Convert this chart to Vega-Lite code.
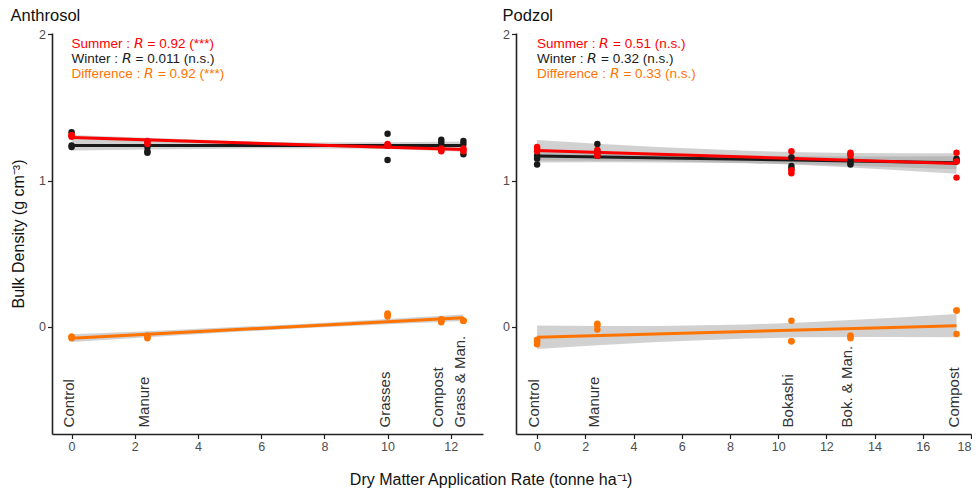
{
  "$schema": "https://vega.github.io/schema/vega-lite/v6.json",
  "padding": {"left": 10, "top": 7, "right": 0, "bottom": 3},
  "title": {
    "text": "Dry Matter Application Rate (tonne ha⁻¹)",
    "orient": "bottom",
    "anchor": "middle",
    "fontSize": 16,
    "offset": 19,
    "color": "#111111"
  },
  "spacing": 19,
  "datasets": {
    "points": [
      {"soil": "Anthrosol", "series": "Winter", "rate": 0, "bd": 1.33},
      {"soil": "Anthrosol", "series": "Winter", "rate": 0, "bd": 1.24},
      {"soil": "Anthrosol", "series": "Winter", "rate": 0, "bd": 1.23},
      {"soil": "Anthrosol", "series": "Winter", "rate": 2.4, "bd": 1.23},
      {"soil": "Anthrosol", "series": "Winter", "rate": 2.4, "bd": 1.2},
      {"soil": "Anthrosol", "series": "Winter", "rate": 2.4, "bd": 1.19},
      {"soil": "Anthrosol", "series": "Winter", "rate": 10, "bd": 1.32},
      {"soil": "Anthrosol", "series": "Winter", "rate": 10, "bd": 1.14},
      {"soil": "Anthrosol", "series": "Winter", "rate": 10, "bd": 1.24},
      {"soil": "Anthrosol", "series": "Winter", "rate": 11.7, "bd": 1.28},
      {"soil": "Anthrosol", "series": "Winter", "rate": 11.7, "bd": 1.26},
      {"soil": "Anthrosol", "series": "Winter", "rate": 11.7, "bd": 1.24},
      {"soil": "Anthrosol", "series": "Winter", "rate": 12.4, "bd": 1.27},
      {"soil": "Anthrosol", "series": "Winter", "rate": 12.4, "bd": 1.25},
      {"soil": "Anthrosol", "series": "Winter", "rate": 12.4, "bd": 1.18},
      {"soil": "Anthrosol", "series": "Summer", "rate": 0, "bd": 1.31},
      {"soil": "Anthrosol", "series": "Summer", "rate": 0, "bd": 1.31},
      {"soil": "Anthrosol", "series": "Summer", "rate": 0, "bd": 1.3},
      {"soil": "Anthrosol", "series": "Summer", "rate": 2.4, "bd": 1.26},
      {"soil": "Anthrosol", "series": "Summer", "rate": 2.4, "bd": 1.27},
      {"soil": "Anthrosol", "series": "Summer", "rate": 2.4, "bd": 1.25},
      {"soil": "Anthrosol", "series": "Summer", "rate": 10, "bd": 1.25},
      {"soil": "Anthrosol", "series": "Summer", "rate": 10, "bd": 1.24},
      {"soil": "Anthrosol", "series": "Summer", "rate": 10, "bd": 1.24},
      {"soil": "Anthrosol", "series": "Summer", "rate": 11.7, "bd": 1.22},
      {"soil": "Anthrosol", "series": "Summer", "rate": 11.7, "bd": 1.21},
      {"soil": "Anthrosol", "series": "Summer", "rate": 11.7, "bd": 1.2},
      {"soil": "Anthrosol", "series": "Summer", "rate": 12.4, "bd": 1.21},
      {"soil": "Anthrosol", "series": "Summer", "rate": 12.4, "bd": 1.2},
      {"soil": "Anthrosol", "series": "Summer", "rate": 12.4, "bd": 1.22},
      {"soil": "Anthrosol", "series": "Difference", "rate": 0, "bd": -0.07},
      {"soil": "Anthrosol", "series": "Difference", "rate": 0, "bd": -0.07},
      {"soil": "Anthrosol", "series": "Difference", "rate": 0, "bd": -0.08},
      {"soil": "Anthrosol", "series": "Difference", "rate": 2.4, "bd": -0.06},
      {"soil": "Anthrosol", "series": "Difference", "rate": 2.4, "bd": -0.07},
      {"soil": "Anthrosol", "series": "Difference", "rate": 2.4, "bd": -0.08},
      {"soil": "Anthrosol", "series": "Difference", "rate": 10, "bd": 0.09},
      {"soil": "Anthrosol", "series": "Difference", "rate": 10, "bd": 0.08},
      {"soil": "Anthrosol", "series": "Difference", "rate": 10, "bd": 0.07},
      {"soil": "Anthrosol", "series": "Difference", "rate": 11.7, "bd": 0.05},
      {"soil": "Anthrosol", "series": "Difference", "rate": 11.7, "bd": 0.04},
      {"soil": "Anthrosol", "series": "Difference", "rate": 11.7, "bd": 0.03},
      {"soil": "Anthrosol", "series": "Difference", "rate": 12.4, "bd": 0.04},
      {"soil": "Anthrosol", "series": "Difference", "rate": 12.4, "bd": 0.04},
      {"soil": "Anthrosol", "series": "Difference", "rate": 12.4, "bd": 0.04},
      {"soil": "Podzol", "series": "Winter", "rate": 0, "bd": 1.17},
      {"soil": "Podzol", "series": "Winter", "rate": 0, "bd": 1.15},
      {"soil": "Podzol", "series": "Winter", "rate": 0, "bd": 1.11},
      {"soil": "Podzol", "series": "Winter", "rate": 2.5, "bd": 1.25},
      {"soil": "Podzol", "series": "Winter", "rate": 2.5, "bd": 1.2},
      {"soil": "Podzol", "series": "Winter", "rate": 2.5, "bd": 1.17},
      {"soil": "Podzol", "series": "Winter", "rate": 10.55, "bd": 1.16},
      {"soil": "Podzol", "series": "Winter", "rate": 10.55, "bd": 1.1},
      {"soil": "Podzol", "series": "Winter", "rate": 10.55, "bd": 1.08},
      {"soil": "Podzol", "series": "Winter", "rate": 13, "bd": 1.14},
      {"soil": "Podzol", "series": "Winter", "rate": 13, "bd": 1.12},
      {"soil": "Podzol", "series": "Winter", "rate": 13, "bd": 1.11},
      {"soil": "Podzol", "series": "Winter", "rate": 17.4, "bd": 1.15},
      {"soil": "Podzol", "series": "Winter", "rate": 17.4, "bd": 1.14},
      {"soil": "Podzol", "series": "Winter", "rate": 17.4, "bd": 1.13},
      {"soil": "Podzol", "series": "Summer", "rate": 0, "bd": 1.23},
      {"soil": "Podzol", "series": "Summer", "rate": 0, "bd": 1.22},
      {"soil": "Podzol", "series": "Summer", "rate": 0, "bd": 1.2},
      {"soil": "Podzol", "series": "Summer", "rate": 2.5, "bd": 1.21},
      {"soil": "Podzol", "series": "Summer", "rate": 2.5, "bd": 1.19},
      {"soil": "Podzol", "series": "Summer", "rate": 2.5, "bd": 1.17},
      {"soil": "Podzol", "series": "Summer", "rate": 10.55, "bd": 1.2},
      {"soil": "Podzol", "series": "Summer", "rate": 10.55, "bd": 1.07},
      {"soil": "Podzol", "series": "Summer", "rate": 10.55, "bd": 1.05},
      {"soil": "Podzol", "series": "Summer", "rate": 13, "bd": 1.19},
      {"soil": "Podzol", "series": "Summer", "rate": 13, "bd": 1.18},
      {"soil": "Podzol", "series": "Summer", "rate": 13, "bd": 1.17},
      {"soil": "Podzol", "series": "Summer", "rate": 17.4, "bd": 1.19},
      {"soil": "Podzol", "series": "Summer", "rate": 17.4, "bd": 1.13},
      {"soil": "Podzol", "series": "Summer", "rate": 17.4, "bd": 1.02},
      {"soil": "Podzol", "series": "Difference", "rate": 0, "bd": -0.09},
      {"soil": "Podzol", "series": "Difference", "rate": 0, "bd": -0.1},
      {"soil": "Podzol", "series": "Difference", "rate": 0, "bd": -0.12},
      {"soil": "Podzol", "series": "Difference", "rate": 2.5, "bd": 0.02},
      {"soil": "Podzol", "series": "Difference", "rate": 2.5, "bd": 0.01},
      {"soil": "Podzol", "series": "Difference", "rate": 2.5, "bd": -0.02},
      {"soil": "Podzol", "series": "Difference", "rate": 10.55, "bd": 0.04},
      {"soil": "Podzol", "series": "Difference", "rate": 10.55, "bd": -0.1},
      {"soil": "Podzol", "series": "Difference", "rate": 10.55, "bd": -0.1},
      {"soil": "Podzol", "series": "Difference", "rate": 13, "bd": -0.06},
      {"soil": "Podzol", "series": "Difference", "rate": 13, "bd": -0.07},
      {"soil": "Podzol", "series": "Difference", "rate": 13, "bd": -0.08},
      {"soil": "Podzol", "series": "Difference", "rate": 17.4, "bd": 0.11},
      {"soil": "Podzol", "series": "Difference", "rate": 17.4, "bd": 0.11},
      {"soil": "Podzol", "series": "Difference", "rate": 17.4, "bd": -0.05}
    ],
    "bands": [
      {"soil": "Anthrosol", "series": "Summer", "rate": 0, "lo": 1.2765, "hi": 1.3125},
      {"soil": "Anthrosol", "series": "Summer", "rate": 2.4, "lo": 1.2645, "hi": 1.2925},
      {"soil": "Anthrosol", "series": "Summer", "rate": 5, "lo": 1.2503, "hi": 1.2723},
      {"soil": "Anthrosol", "series": "Summer", "rate": 7.3, "lo": 1.236, "hi": 1.256},
      {"soil": "Anthrosol", "series": "Summer", "rate": 10, "lo": 1.216, "hi": 1.24},
      {"soil": "Anthrosol", "series": "Summer", "rate": 12.4, "lo": 1.197, "hi": 1.227},
      {"soil": "Anthrosol", "series": "Winter", "rate": 0, "lo": 1.205, "hi": 1.275},
      {"soil": "Anthrosol", "series": "Winter", "rate": 2.4, "lo": 1.212, "hi": 1.268},
      {"soil": "Anthrosol", "series": "Winter", "rate": 5, "lo": 1.218, "hi": 1.262},
      {"soil": "Anthrosol", "series": "Winter", "rate": 7.3, "lo": 1.22, "hi": 1.26},
      {"soil": "Anthrosol", "series": "Winter", "rate": 10, "lo": 1.217, "hi": 1.263},
      {"soil": "Anthrosol", "series": "Winter", "rate": 12.4, "lo": 1.212, "hi": 1.268},
      {"soil": "Anthrosol", "series": "Difference", "rate": 0, "lo": -0.106, "hi": -0.052},
      {"soil": "Anthrosol", "series": "Difference", "rate": 2.4, "lo": -0.073, "hi": -0.031},
      {"soil": "Anthrosol", "series": "Difference", "rate": 5, "lo": -0.039, "hi": -0.005},
      {"soil": "Anthrosol", "series": "Difference", "rate": 7.3, "lo": -0.0113, "hi": 0.0187},
      {"soil": "Anthrosol", "series": "Difference", "rate": 10, "lo": 0.016, "hi": 0.052},
      {"soil": "Anthrosol", "series": "Difference", "rate": 12.4, "lo": 0.039, "hi": 0.083},
      {"soil": "Podzol", "series": "Summer", "rate": 0, "lo": 1.137, "hi": 1.277},
      {"soil": "Podzol", "series": "Summer", "rate": 2.5, "lo": 1.136, "hi": 1.252},
      {"soil": "Podzol", "series": "Summer", "rate": 5, "lo": 1.133, "hi": 1.229},
      {"soil": "Podzol", "series": "Summer", "rate": 8.688, "lo": 1.1198, "hi": 1.2038},
      {"soil": "Podzol", "series": "Summer", "rate": 11, "lo": 1.1058, "hi": 1.1938},
      {"soil": "Podzol", "series": "Summer", "rate": 13, "lo": 1.0894, "hi": 1.1894},
      {"soil": "Podzol", "series": "Summer", "rate": 15, "lo": 1.071, "hi": 1.187},
      {"soil": "Podzol", "series": "Summer", "rate": 17.4, "lo": 1.0465, "hi": 1.1865},
      {"soil": "Podzol", "series": "Winter", "rate": 0, "lo": 1.123, "hi": 1.213},
      {"soil": "Podzol", "series": "Winter", "rate": 2.5, "lo": 1.1244, "hi": 1.1984},
      {"soil": "Podzol", "series": "Winter", "rate": 5, "lo": 1.1237, "hi": 1.1857},
      {"soil": "Podzol", "series": "Winter", "rate": 8.688, "lo": 1.1179, "hi": 1.1719},
      {"soil": "Podzol", "series": "Winter", "rate": 11, "lo": 1.1107, "hi": 1.1667},
      {"soil": "Podzol", "series": "Winter", "rate": 13, "lo": 1.1014, "hi": 1.1654},
      {"soil": "Podzol", "series": "Winter", "rate": 15, "lo": 1.0911, "hi": 1.1651},
      {"soil": "Podzol", "series": "Winter", "rate": 17.4, "lo": 1.0767, "hi": 1.1667},
      {"soil": "Podzol", "series": "Difference", "rate": 0, "lo": -0.153, "hi": 0.007},
      {"soil": "Podzol", "series": "Difference", "rate": 2.5, "lo": -0.1275, "hi": 0.0045},
      {"soil": "Podzol", "series": "Difference", "rate": 5, "lo": -0.105, "hi": 0.005},
      {"soil": "Podzol", "series": "Difference", "rate": 8.688, "lo": -0.0811, "hi": 0.0149},
      {"soil": "Podzol", "series": "Difference", "rate": 11, "lo": -0.0735, "hi": 0.0285},
      {"soil": "Podzol", "series": "Difference", "rate": 13, "lo": -0.0713, "hi": 0.0447},
      {"soil": "Podzol", "series": "Difference", "rate": 15, "lo": -0.0711, "hi": 0.0629},
      {"soil": "Podzol", "series": "Difference", "rate": 17.4, "lo": -0.0731, "hi": 0.0869}
    ],
    "treatments": [
      {"soil": "Anthrosol", "rate": 0, "treatment": "Control"},
      {"soil": "Anthrosol", "rate": 2.4, "treatment": "Manure"},
      {"soil": "Anthrosol", "rate": 10, "treatment": "Grasses"},
      {"soil": "Anthrosol", "rate": 11.7, "treatment": "Compost"},
      {"soil": "Anthrosol", "rate": 12.4, "treatment": "Grass & Man."},
      {"soil": "Podzol", "rate": 0, "treatment": "Control"},
      {"soil": "Podzol", "rate": 2.5, "treatment": "Manure"},
      {"soil": "Podzol", "rate": 10.55, "treatment": "Bokashi"},
      {"soil": "Podzol", "rate": 13, "treatment": "Bok. & Man."},
      {"soil": "Podzol", "rate": 17.4, "treatment": "Compost"}
    ],
    "notes": [
      {"soil": "Anthrosol", "series": "Summer", "note": "Summer : 𝘙 = 0.92 (***)"},
      {"soil": "Anthrosol", "series": "Winter", "note": "Winter : 𝘙 = 0.011 (n.s.)"},
      {"soil": "Anthrosol", "series": "Difference", "note": "Difference : 𝘙 = 0.92 (***)"},
      {"soil": "Podzol", "series": "Summer", "note": "Summer : 𝘙 = 0.51 (n.s.)"},
      {"soil": "Podzol", "series": "Winter", "note": "Winter : 𝘙 = 0.32 (n.s.)"},
      {"soil": "Podzol", "series": "Difference", "note": "Difference : 𝘙 = 0.33 (n.s.)"}
    ]
  },
  "hconcat": [
    {
      "width": 431,
      "height": 401,
      "title": "Anthrosol",
      "layer": [
        {
          "data": {"name": "bands"},
          "transform": [{"filter": "datum.soil === 'Anthrosol'"}],
          "mark": {"type": "area", "color": "#999999", "opacity": 0.45},
          "encoding": {
            "x": {"field": "rate", "type": "quantitative", "scale": {"domain": [-0.62, 13.02], "nice": false, "zero": false}, "axis": {"values": [0, 2, 4, 6, 8, 10, 12], "title": null}},
            "y": {"field": "lo", "type": "quantitative", "scale": {"domain": [-0.735, 2.01], "nice": false, "zero": false}, "axis": {"values": [0, 1, 2], "format": "d", "title": "Bulk Density (g cm⁻³)"}},
            "y2": {"field": "hi"},
            "detail": {"field": "series"}
          }
        },
        {
          "data": {"name": "points"},
          "transform": [
            {"filter": "datum.soil === 'Anthrosol'"},
            {"regression": "bd", "on": "rate", "groupby": ["series"]}
          ],
          "mark": {"type": "line", "strokeWidth": 3},
          "encoding": {
            "x": {"field": "rate", "type": "quantitative"},
            "y": {"field": "bd", "type": "quantitative"},
            "color": {"field": "series", "type": "nominal", "scale": {"domain": ["Summer", "Winter", "Difference"], "range": ["#ff0000", "#1a1a1a", "#ff7300"]}, "legend": null}
          }
        },
        {
          "data": {"name": "points"},
          "transform": [{"filter": "datum.soil === 'Anthrosol'"}],
          "mark": {"type": "circle", "size": 42, "opacity": 1},
          "encoding": {
            "x": {"field": "rate", "type": "quantitative"},
            "y": {"field": "bd", "type": "quantitative"},
            "color": {"field": "series", "type": "nominal", "legend": null}
          }
        },
        {
          "data": {"name": "treatments"},
          "transform": [{"filter": "datum.soil === 'Anthrosol'"}],
          "mark": {"type": "text", "angle": 270, "align": "left", "baseline": "alphabetic", "fontSize": 15, "color": "#333333", "dy": 2},
          "encoding": {
            "x": {"field": "rate", "type": "quantitative"},
            "y": {"datum": -0.69},
            "text": {"field": "treatment"}
          }
        },
        {
          "data": {"name": "notes"},
          "transform": [{"filter": "datum.soil === 'Anthrosol' && datum.series === 'Summer'"}],
          "mark": {"type": "text", "align": "left", "baseline": "alphabetic", "fontSize": 13.5},
          "encoding": {"x": {"datum": 0}, "y": {"datum": 1.91}, "text": {"field": "note"}, "color": {"field": "series", "type": "nominal", "legend": null}}
        },
        {
          "data": {"name": "notes"},
          "transform": [{"filter": "datum.soil === 'Anthrosol' && datum.series === 'Winter'"}],
          "mark": {"type": "text", "align": "left", "baseline": "alphabetic", "fontSize": 13.5},
          "encoding": {"x": {"datum": 0}, "y": {"datum": 1.805}, "text": {"field": "note"}, "color": {"field": "series", "type": "nominal", "legend": null}}
        },
        {
          "data": {"name": "notes"},
          "transform": [{"filter": "datum.soil === 'Anthrosol' && datum.series === 'Difference'"}],
          "mark": {"type": "text", "align": "left", "baseline": "alphabetic", "fontSize": 13.5},
          "encoding": {"x": {"datum": 0}, "y": {"datum": 1.70}, "text": {"field": "note"}, "color": {"field": "series", "type": "nominal", "legend": null}}
        }
      ]
    },
    {
      "width": 455,
      "height": 401,
      "title": "Podzol",
      "layer": [
        {
          "data": {"name": "bands"},
          "transform": [{"filter": "datum.soil === 'Podzol'"}],
          "mark": {"type": "area", "color": "#999999", "opacity": 0.45},
          "encoding": {
            "x": {"field": "rate", "type": "quantitative", "scale": {"domain": [-0.875, 18.0], "nice": false, "zero": false}, "axis": {"values": [0, 2, 4, 6, 8, 10, 12, 14, 16, 18], "title": null}},
            "y": {"field": "lo", "type": "quantitative", "scale": {"domain": [-0.735, 2.01], "nice": false, "zero": false}, "axis": {"values": [0, 1, 2], "format": "d", "title": null}},
            "y2": {"field": "hi"},
            "detail": {"field": "series"}
          }
        },
        {
          "data": {"name": "points"},
          "transform": [
            {"filter": "datum.soil === 'Podzol'"},
            {"regression": "bd", "on": "rate", "groupby": ["series"]}
          ],
          "mark": {"type": "line", "strokeWidth": 3},
          "encoding": {
            "x": {"field": "rate", "type": "quantitative"},
            "y": {"field": "bd", "type": "quantitative"},
            "color": {"field": "series", "type": "nominal", "legend": null}
          }
        },
        {
          "data": {"name": "points"},
          "transform": [{"filter": "datum.soil === 'Podzol'"}],
          "mark": {"type": "circle", "size": 42, "opacity": 1},
          "encoding": {
            "x": {"field": "rate", "type": "quantitative"},
            "y": {"field": "bd", "type": "quantitative"},
            "color": {"field": "series", "type": "nominal", "legend": null}
          }
        },
        {
          "data": {"name": "treatments"},
          "transform": [{"filter": "datum.soil === 'Podzol'"}],
          "mark": {"type": "text", "angle": 270, "align": "left", "baseline": "alphabetic", "fontSize": 15, "color": "#333333", "dy": 2},
          "encoding": {
            "x": {"field": "rate", "type": "quantitative"},
            "y": {"datum": -0.69},
            "text": {"field": "treatment"}
          }
        },
        {
          "data": {"name": "notes"},
          "transform": [{"filter": "datum.soil === 'Podzol' && datum.series === 'Summer'"}],
          "mark": {"type": "text", "align": "left", "baseline": "alphabetic", "fontSize": 13.5},
          "encoding": {"x": {"datum": 0}, "y": {"datum": 1.91}, "text": {"field": "note"}, "color": {"field": "series", "type": "nominal", "legend": null}}
        },
        {
          "data": {"name": "notes"},
          "transform": [{"filter": "datum.soil === 'Podzol' && datum.series === 'Winter'"}],
          "mark": {"type": "text", "align": "left", "baseline": "alphabetic", "fontSize": 13.5},
          "encoding": {"x": {"datum": 0}, "y": {"datum": 1.805}, "text": {"field": "note"}, "color": {"field": "series", "type": "nominal", "legend": null}}
        },
        {
          "data": {"name": "notes"},
          "transform": [{"filter": "datum.soil === 'Podzol' && datum.series === 'Difference'"}],
          "mark": {"type": "text", "align": "left", "baseline": "alphabetic", "fontSize": 13.5},
          "encoding": {"x": {"datum": 0}, "y": {"datum": 1.70}, "text": {"field": "note"}, "color": {"field": "series", "type": "nominal", "legend": null}}
        }
      ]
    }
  ],
  "config": {
    "font": "Liberation Sans",
    "view": {"stroke": null},
    "axis": {
      "grid": false,
      "domainColor": "#222222",
      "domainWidth": 1.6,
      "tickColor": "#222222",
      "tickWidth": 1.2,
      "tickSize": 4.5,
      "labelColor": "#4d4d4d",
      "labelFontSize": 12.5,
      "labelPadding": 2,
      "titleFontSize": 16,
      "titleFontWeight": "normal",
      "titleColor": "#111111"
    },
    "axisY": {"titlePadding": 12},
    "title": {"fontSize": 16.5, "fontWeight": "normal", "anchor": "start", "offset": 4, "color": "#111111"}
  }
}
